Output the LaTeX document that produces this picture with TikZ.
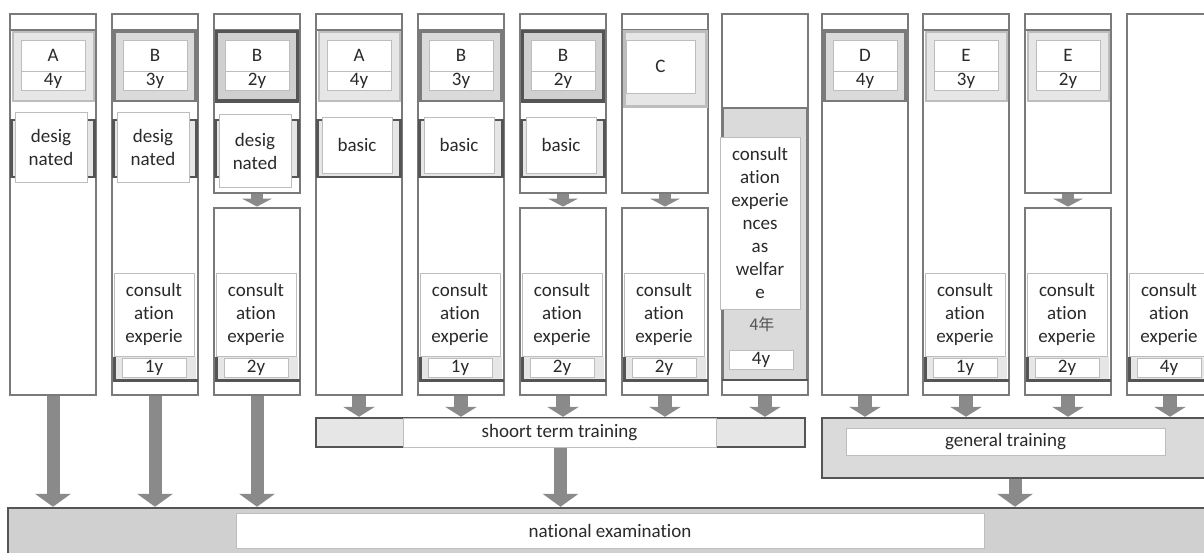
\documentclass[tikz,border=0pt]{standalone}
\usepackage{fontspec}
\setmainfont{Carlito}[Ligatures={NoCommon,NoContextual}]
\newfontfamily\cjkfont{Noto Sans CJK JP}
\usepackage{tikz}
\usetikzlibrary{arrows.meta,fit}
\definecolor{framegrey}{HTML}{7A7A7A}
\definecolor{darkframe}{HTML}{555555}
\definecolor{lightfill}{HTML}{E6E6E6}
\definecolor{midfill}{HTML}{DADADA}
\definecolor{deepfill}{HTML}{D0D0D0}
\definecolor{boxline}{HTML}{BDBDBD}
\definecolor{arrowgrey}{HTML}{8A8A8A}
\definecolor{inkgrey}{HTML}{2A2A2A}

\begin{document}
\begin{tikzpicture}[x=1pt,y=-1pt,
    colframe/.style={draw=framegrey,line width=2.8pt,fill=white,inner sep=0pt},
    band/.style={draw=framegrey,line width=2.8pt},
    gradelight/.style={draw=boxline,line width=2pt,fill=lightfill},
    grademid/.style={draw=framegrey,line width=2.8pt,fill=midfill},
    gradedark/.style={draw=darkframe,line width=3.5pt,fill=deepfill},
    tag/.style={draw=boxline,line width=0.8pt,fill=white,text=inkgrey,inner sep=0pt,
      align=center,font=\fontsize{19}{23}\selectfont},
    trainbox/.style={draw=darkframe,line width=2.5pt,inner sep=0pt},
    bigarrow/.style={draw=arrowgrey,line width=13pt,-{Triangle[width=36pt,length=13pt,line width=0pt]}},
    smallarrow/.style={draw=arrowgrey,line width=14pt,-{Triangle[width=32pt,length=10pt,line width=0pt]}},
    midarrow/.style={draw=arrowgrey,line width=12pt,-{Triangle[width=30pt,length=8pt,line width=0pt]}}]
  \useasboundingbox (0,0) rectangle (1204,552);
  \clip (0,0) rectangle (1204,552);

  % columns running the whole height
  \foreach \i/\x in {1/10,2/112,4/316,5/418,9/822,10/923}{
    \node[colframe,fit={(\x,14) (\x+86,395)}] (col\i) {};
    \draw[band] (\x,30) -- (\x+86,30);
  }
  \node[colframe,fit={(1127,14) (1213,395)}] (col12) {};
  % columns cut in two
  \foreach \i/\x in {3/214,6/520,7/622,11/1025}{
    \node[colframe,fit={(\x,14) (\x+86,193)}] (top\i) {};
    \draw[band] (\x,30) -- (\x+86,30);
    \node[colframe,fit={(\x,208) (\x+86,395)}] (col\i) {};
    \draw[midarrow] (top\i) -- (col\i);
  }
  % welfare column
  \node[colframe,fit={(722,14) (808,108)}] (top8) {};
  \node[colframe,fit={(722,108) (808,395)}] (col8) {};
  \draw[grademid] (723,108) rectangle (807,380);
  \draw[darkframe,line width=2.5pt] (722,380) -- (808,380);

  % school grades
  \foreach \i/\x/\g/\yr/\sty in {1/10/A/4y/gradelight,2/112/B/3y/grademid,3/214/B/2y/gradedark,
      4/316/A/4y/gradelight,5/418/B/3y/grademid,6/520/B/2y/gradedark,
      9/822/D/4y/grademid,10/923/E/3y/gradelight,11/1025/E/2y/gradelight}{
    \draw[\sty] (\x+2.5,31.5) rectangle (\x+83.5,101);
    \node[tag,minimum width=64pt,minimum height=31pt] (grade\i) at (\x+43,55.5) {\g};
    \node[tag,minimum width=64pt,minimum height=19pt] (term\i) at (\x+43,80.5) {\yr};
  }
  \draw[gradelight,line width=3pt] (624,31.5) rectangle (706,106);
  \node[tag,minimum width=69pt,minimum height=53pt] (grade7) at (660.5,66.5) {C};

  % subjects
  \foreach \i/\x/\t/\yc/\w/\h in {1/10/{desig\\nated}/147/72/70,2/112/{desig\\nated}/147/72/70,
      3/214/{desig\\nated}/151/72/73,4/316/basic/145/70/56,5/418/basic/145/70/56,6/520/basic/145/70/56}{
    \draw[band,fill=lightfill,draw=darkframe] (\x+1.5,120) rectangle (\x+84.5,177);
    \node[tag,minimum width=\w pt,minimum height=\h pt] (duty\i) at (\x+41,\yc) {\t};
  }

  % consultation experience
  \foreach \i/\x/\yr in {2/112/1y,3/214/2y,5/418/1y,6/520/2y,7/622/2y,10/923/1y,11/1025/2y,12/1127/4y}{
    \fill[lightfill] (\x+2,357) rectangle (\x+84,379);
    \draw[darkframe,line width=3pt] (\x+2,357) -- (\x+2,380) -- (\x+86,380);
    \node[tag,minimum width=64pt,minimum height=19pt] (span\i) at (\x+42,367.5) {\yr};
    \node[tag,minimum width=80pt,minimum height=83pt] (consult\i) at (\x+42,314.5) {consult\\ation\\experie};
  }
  \node[tag,minimum width=80pt,minimum height=172pt] (welfare) at (760,223)
    {consult\\ation\\experie\\nces\\as\\welfar\\e};
  \node[text=darkframe,font=\cjkfont\fontsize{16}{16}\selectfont] (nen) at (762,324) {4年};
  \node[tag,minimum width=64pt,minimum height=19pt] (span8) at (761,359.5) {4y};

  % trainings and examination
  \node[trainbox,fill=lightfill,fit={(316,418) (805,447)}] (shortrun) {};
  \node[tag,minimum width=313pt,minimum height=29pt] (shortlabel) at (559.5,432.5) {shoort term training};
  \node[trainbox,fill=midfill,fit={(822,418) (1208,478)}] (general) {};
  \node[tag,minimum width=319pt,minimum height=27pt] (genlabel) at (1005.5,441.5) {general training};
  \node[trainbox,fill=deepfill,fit={(8,508) (1220,580)}] (exam) {};
  \node[tag,minimum width=748pt,minimum height=35pt] (examlabel) at (610,530.5) {national examination};

  \foreach \i in {1,2,3}
    \draw[bigarrow] (col\i.south) -- (col\i.south |- exam.north);
  \foreach \i in {4,...,8}
    \draw[smallarrow] (col\i.south) -- (col\i.south |- shortrun.north);
  \foreach \i in {9,...,12}
    \draw[smallarrow] (col\i.south) -- (col\i.south |- general.north);
  \draw[bigarrow] (shortrun.south) -- (shortrun.south |- exam.north);
  \draw[bigarrow] (general.south) -- (general.south |- exam.north);
\end{tikzpicture}
\end{document}
